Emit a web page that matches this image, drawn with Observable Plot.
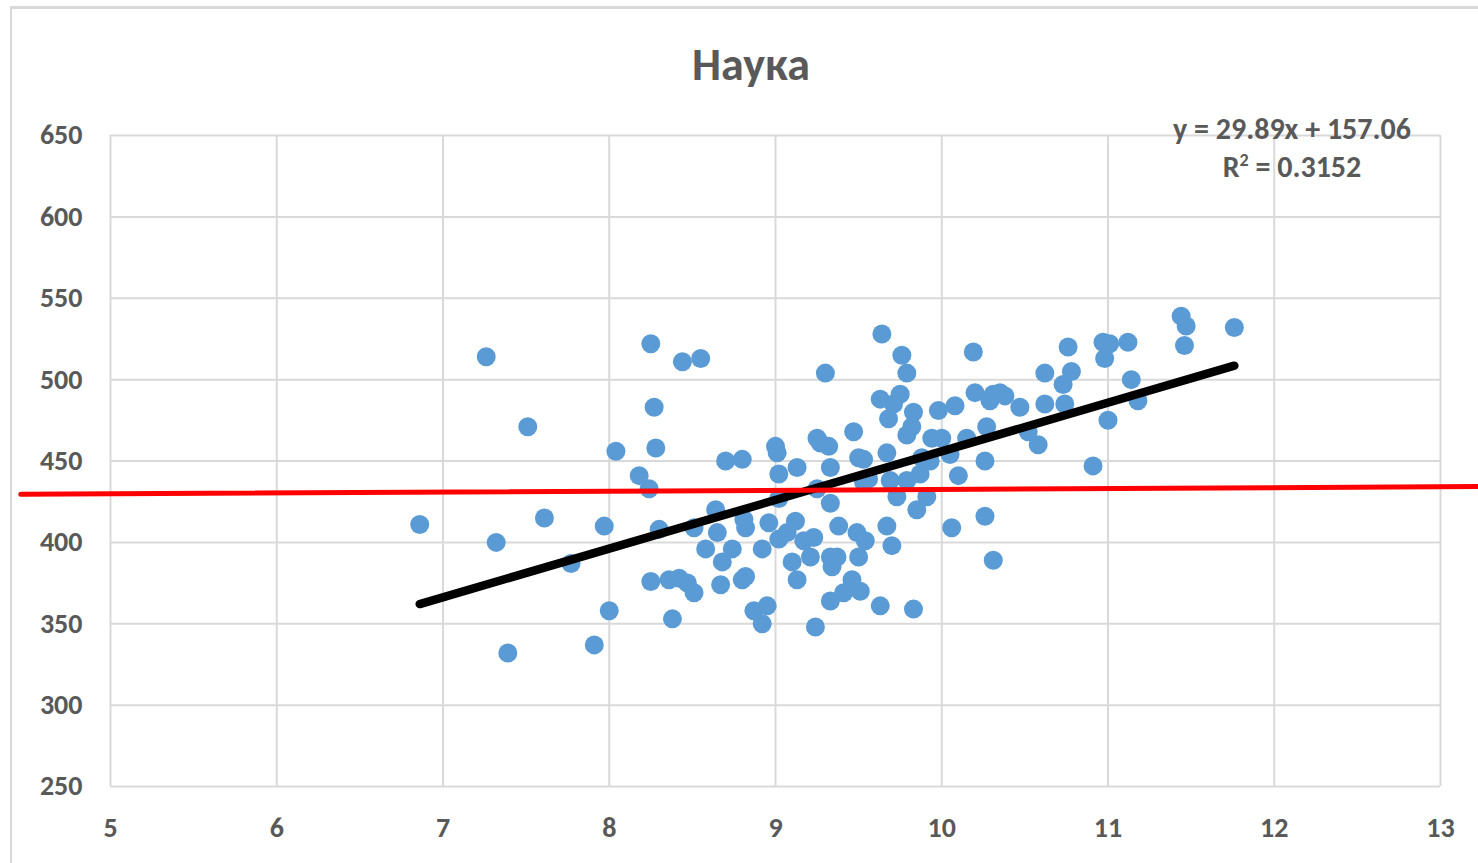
<!DOCTYPE html>
<html>
<head>
<meta charset="utf-8">
<script src="https://cdn.jsdelivr.net/npm/d3@7"></script>
<script src="https://cdn.jsdelivr.net/npm/@observablehq/plot@0.6"></script>
<style>
  html, body { margin: 0; padding: 0; background: #fff; }
  #wrap { position: relative; width: 1478px; height: 863px; overflow: hidden; font-family: Carlito, Lato, "Open Sans", sans-serif; }
  #border { position: absolute; left: 10px; top: 6px; width: 1500px; height: 900px; border-top: 3px solid #d9d9d9; border-left: 2px solid #d9d9d9; }
  #title { position: absolute; left: 0; width: 1502px; top: 36px; text-align: center; font-size: 46px; font-weight: 700; color: #595959; }
  .eq { position: absolute; left: 1117px; width: 350px; text-align: center; font-size: 30px; font-weight: 600; color: #595959; }
  #chart { position: absolute; left: 0; top: 0; }
</style>
</head>
<body>
<div id="wrap">
  <div id="border"></div>
  <div id="chart"></div>
  <div id="title"></div>
  <div class="eq" id="eq1" style="top:110px"></div>
  <div class="eq" id="eq2" style="top:148px"></div>
</div>
<script>
const title = "Наука";
const xTicks = [5, 6, 7, 8, 9, 10, 11, 12, 13];
const yTicks = [250, 300, 350, 400, 450, 500, 550, 600, 650];
const slope = 29.89;
const intercept = 157.06;
const r2 = 0.3152;

const xs = [6.86,7.26,7.32,7.39,7.51,7.61,7.77,7.91,7.97,8.00,8.04,8.18,8.24,8.25,8.27,8.28,8.30,8.25,8.36,8.42,
8.38,8.44,8.55,8.47,8.51,8.51,8.58,8.64,8.65,8.67,8.68,8.70,8.74,8.80,8.80,8.82,8.81,8.82,8.87,8.92,
8.92,8.95,8.96,9.00,9.01,9.02,9.02,9.02,9.07,9.10,9.12,9.13,9.13,9.17,9.21,9.23,9.24,9.25,9.25,9.27,
9.30,9.32,9.33,9.33,9.33,9.34,9.33,9.38,9.37,9.41,9.46,9.47,9.49,9.50,9.50,9.51,9.53,9.54,9.56,9.53,
9.63,9.64,9.63,9.67,9.67,9.68,9.70,9.71,9.73,9.69,9.75,9.76,9.79,9.79,9.79,9.82,9.83,9.83,9.85,9.87,
9.88,9.91,9.93,9.94,9.98,10.00,10.05,10.06,10.08,10.10,10.15,10.19,10.20,10.26,10.26,10.27,10.29,10.31,10.31,10.35,
10.38,10.47,10.52,10.58,10.62,10.62,10.73,10.74,10.76,10.78,10.91,10.97,10.98,11.01,11.00,11.12,11.14,11.18,11.44,11.47,
11.46,11.76];
const ys = [411,514,400,332,471,415,387,337,410,358,456,441,433,522,483,458,408,376,377,378,
353,511,513,375,369,409,396,420,406,374,388,450,396,451,377,379,414,409,358,396,
350,361,412,459,455,427,402,442,406,388,413,446,377,401,391,403,348,464,433,461,
504,459,446,424,391,385,364,410,391,369,377,468,406,452,391,370,451,401,439,437,
361,528,488,410,455,476,398,485,428,438,491,515,504,466,438,471,480,359,420,442,
452,428,450,464,481,464,454,409,484,441,464,517,492,416,450,471,487,389,491,492,
490,483,468,460,504,485,497,485,520,505,447,523,513,522,475,523,500,487,539,533,
521,532];

// red reference line (hand-drawn in original), endpoints in data units
const redX = [4.46, 13.23];
const redY = [429.5, 434.3];

const points = xs.map((x, i) => ({x, y: ys[i]}));
const [xMin, xMax] = d3.extent(xs);
const trend = [xMin, xMax].map(x => ({x, y: slope * x + intercept}));
const red = redX.map((x, i) => ({x, y: redY[i]}));

const grid = "#d9d9d9";
const chart = Plot.plot({
  width: 1478,
  height: 863,
  marginLeft: 110,
  marginRight: 38,
  marginTop: 135,
  marginBottom: 77,
  style: {background: "transparent", fontFamily: "Carlito, Lato, 'Open Sans', sans-serif", fontSize: "28px", fontWeight: 600, color: "#595959", overflow: "visible"},
  x: {domain: [5, 13]},
  y: {domain: [250, 650]},
  marks: [
    Plot.gridX(xTicks, {stroke: grid, strokeOpacity: 1, strokeWidth: 2}),
    Plot.gridY(yTicks, {stroke: grid, strokeOpacity: 1, strokeWidth: 2}),
    Plot.axisX(xTicks, {tickSize: 0, tickPadding: 31, fontSize: 28, fontWeight: 600, fill: "#595959", label: null, tickFormat: d => String(d)}),
    Plot.axisY(yTicks, {tickSize: 0, tickPadding: 28, fontSize: 28, fontWeight: 600, fill: "#595959", label: null, tickFormat: d => String(d)}),
    Plot.dot(points, {x: "x", y: "y", r: 9.5, fill: "#5b9bd5", stroke: "none"}),
    Plot.line(trend, {x: "x", y: "y", stroke: "#000", strokeWidth: 8.5, strokeLinecap: "round"}),
    Plot.line(red, {x: "x", y: "y", stroke: "#ff0000", strokeWidth: 5, clip: false})
  ]
});
document.getElementById("chart").appendChild(chart);
document.getElementById("title").textContent = title;
document.getElementById("eq1").textContent = `y = ${slope}x + ${intercept.toFixed(2)}`;
document.getElementById("eq2").innerHTML = `R<sup style="font-size:18px">2</sup> = ${r2}`;
</script>
</body>
</html>
